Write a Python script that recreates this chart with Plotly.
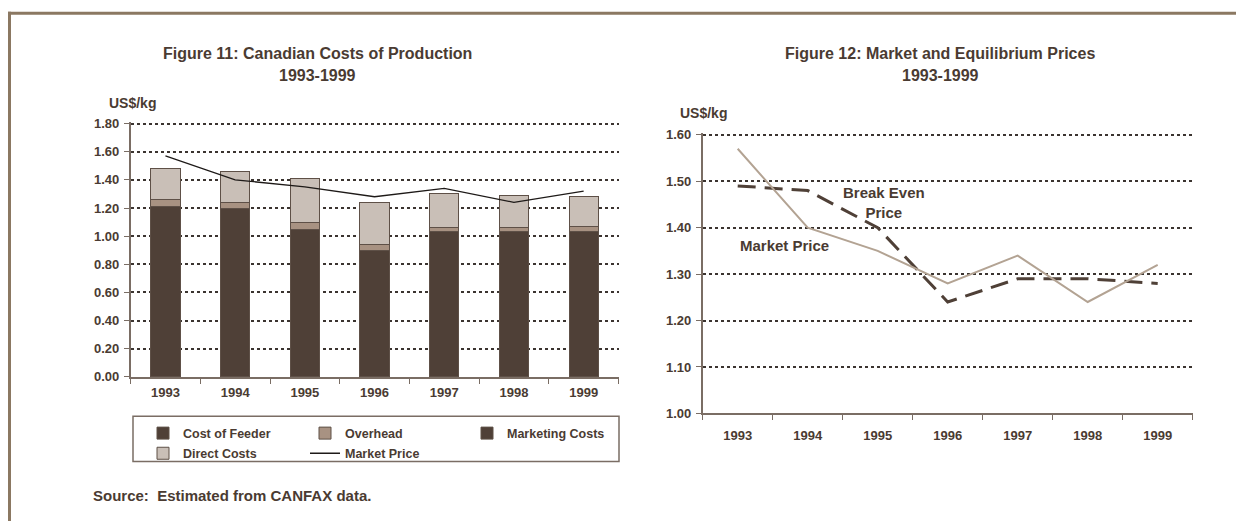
import plotly.graph_objects as go

years = ["1993", "1994", "1995", "1996", "1997", "1998", "1999"]
cost_of_feeder = [1.21, 1.20, 1.05, 0.90, 1.03, 1.03, 1.03]
overhead = [0.05, 0.04, 0.05, 0.04, 0.03, 0.03, 0.04]
marketing_costs = [0.0, 0.0, 0.0, 0.0, 0.0, 0.0, 0.0]
direct_costs = [0.22, 0.22, 0.31, 0.30, 0.24, 0.23, 0.21]
market_price = [1.57, 1.40, 1.35, 1.28, 1.34, 1.24, 1.32]
break_even_price = [1.49, 1.48, 1.40, 1.24, 1.29, 1.29, 1.28]
left_ticks = [0.0, 0.2, 0.4, 0.6, 0.8, 1.0, 1.2, 1.4, 1.6, 1.8]
right_ticks = [1.0, 1.1, 1.2, 1.3, 1.4, 1.5, 1.6]

W, H = 1236, 529
TXT = "#4a3b32"
FONT = "Liberation Sans"
DARK = "#4f4037"
OUT = "#5e5047"
AX = "#7a6d64"


def fx(p):
    return p / W


def fy(p):
    return 1 - p / H


fig = go.Figure()
bar_specs = [
    ("Cost of Feeder", cost_of_feeder, DARK, "legend"),
    ("Overhead", overhead, "#a89282", "legend"),
    ("Marketing Costs", marketing_costs, DARK, "legend"),
    ("Direct Costs", direct_costs, "#c9bfb7", "legend2"),
]
for name, vals, col, lg in bar_specs:
    fig.add_trace(go.Bar(
        x=years, y=vals, name=name, marker=dict(color=col, line=dict(color=OUT, width=1)),
        xaxis="x", yaxis="y", legend=lg,
    ))
fig.add_trace(go.Scatter(
    x=years, y=market_price, name="Market Price", mode="lines",
    line=dict(color="#1e1a18", width=1.3), xaxis="x", yaxis="y", legend="legend2",
))
fig.add_trace(go.Scatter(
    x=years, y=break_even_price, name="Break Even Price", mode="lines",
    line=dict(color=DARK, width=3, dash="18px,9px"), xaxis="x2", yaxis="y2", showlegend=False,
))
fig.add_trace(go.Scatter(
    x=years, y=market_price, name="Market Price", mode="lines",
    line=dict(color="#b3a393", width=2), xaxis="x2", yaxis="y2", showlegend=False,
))

tickfont = dict(family=FONT, size=13, color=TXT, weight="bold")
GRIDC = "#3b3430"
xcommon = dict(type="category", showline=True, linecolor=AX, linewidth=1.5, ticks="outside",
               tickson="boundaries", ticklen=5, tickcolor=AX, tickfont=tickfont, showgrid=False,
               range=[-0.5, 6.5])
ycommon = dict(showline=True, linecolor=AX, linewidth=1.5, ticks="outside", ticklen=5,
               tickcolor=AX, tickfont=tickfont, zeroline=False, ticklabelstandoff=2,
               tickformat=".2f", showgrid=True, gridcolor=GRIDC, gridwidth=1.5, griddash="dot")

legfont = dict(family=FONT, size=12.5, color=TXT, weight="bold")
fig.update_layout(
    width=W, height=H, margin=dict(l=0, r=0, t=0, b=0),
    paper_bgcolor="white", plot_bgcolor="white",
    barmode="stack", bargap=0.58,
    font=dict(family=FONT, color=TXT),
    xaxis=dict(domain=[fx(130.6), fx(618.5)], anchor="y", ticklabelstandoff=3, **xcommon),
    yaxis=dict(domain=[fy(381), fy(119.0)], anchor="x", range=[0, 1.812], tickvals=left_ticks,
               **ycommon),
    xaxis2=dict(domain=[fx(702.7), fx(1192.7)], anchor="y2", ticklabelstandoff=9, **xcommon),
    yaxis2=dict(domain=[fy(418.5), fy(130.2)], anchor="x2", range=[1.0, 1.6045],
                tickvals=right_ticks, **ycommon),
    legend=dict(orientation="h", x=fx(143), y=fy(423.7), xanchor="left", yanchor="top",
                entrywidth=117, font=legfont,
                bgcolor="rgba(0,0,0,0)", borderwidth=0, traceorder="normal"),
    legend2=dict(orientation="h", x=fx(143), y=fy(444.4), xanchor="left", yanchor="top",
                 entrywidth=117, font=legfont,
                 bgcolor="rgba(0,0,0,0)", borderwidth=0, traceorder="normal"),
    showlegend=True,
)

shapes = [
    dict(type="rect", xref="paper", yref="paper", x0=fx(133), x1=fx(619), y0=fy(468), y1=fy(421.5),
         line=dict(color=AX, width=1.5), fillcolor="rgba(0,0,0,0)"),
    dict(type="line", xref="paper", yref="paper", x0=fx(8), x1=1, y0=fy(7.5), y1=fy(7.5),
         line=dict(color="#8b7862", width=3)),
    dict(type="line", xref="paper", yref="paper", x0=fx(9.5), x1=fx(9.5), y0=fy(6), y1=0,
         line=dict(color="#8b7862", width=3)),
]
fig.update_layout(shapes=shapes)


def ann(text, x, y, size, xanchor="center"):
    fig.add_annotation(text=text, xref="paper", yref="paper", x=fx(x), y=fy(y),
                       xanchor=xanchor, yanchor="middle", showarrow=False,
                       font=dict(family=FONT, size=size, color=TXT, weight="bold"))


ann("Figure 11: Canadian Costs of Production", 317, 49, 16)
ann("1993-1999", 317, 71, 16)
ann("Figure 12: Market and Equilibrium Prices", 940, 49, 16)
ann("1993-1999", 940, 71, 16)
ann("US$/kg", 132.5, 100, 14)
ann("US$/kg", 703, 110, 14)
ann("Break Even<br>Price", 884, 202, 15)
ann("Market Price", 784.5, 245.6, 15)
ann("Source:  Estimated from CANFAX data.", 91, 503, 15, xanchor="left")

fig.write_html("out.html", config={"displayModeBar": False},
               post_script="document.body.style.margin='0';")
